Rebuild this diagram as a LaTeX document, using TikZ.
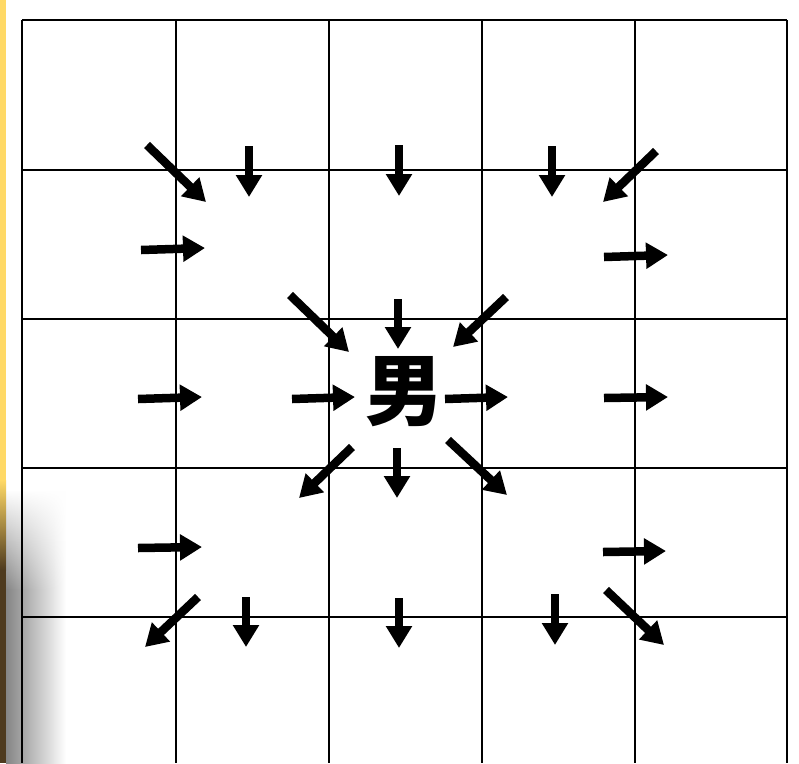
\documentclass[tikz,border=0pt]{standalone}
\usepackage{fontspec}
\newfontfamily\cjk{Noto Sans CJK SC}
\usetikzlibrary{arrows.meta,fadings}
\definecolor{stripyellow}{HTML}{FFD966}
\definecolor{stripbrown}{HTML}{4E3A1E}
\tikzfading[name=downfade, top color=transparent!100, bottom color=transparent!0]
\tikzset{
  gridline/.style={line width=2pt, black},
  bigarrow/.style={line width=8.5pt, black, -{Triangle[width=25pt,length=22pt]}},
}
\begin{document}
\begin{tikzpicture}[x=1pt,y=-1pt]
\useasboundingbox (0,0) rectangle (799,763);
\fill[white] (0,0) rectangle (799,763);
% left strip and shadow (photo edge)
\fill[stripyellow] (0,0) rectangle (6,480);
\shade[top color=stripyellow, bottom color=stripbrown] (0,480) rectangle (6,570);
\fill[stripbrown] (0,570) rectangle (6,763);
\shade[left color=black!48, right color=white, path fading=downfade] (6,490) rectangle (66,590);
\shade[left color=black!48, right color=white] (6,589.5) rectangle (66,763);
% grid
\foreach \x in {22,176,329,482,635,787} \draw[gridline] (\x,20) -- (\x,763);
\foreach \y in {20,170,319,468,617} \draw[gridline] (22,\y) -- (787,\y);
% central character
\node[inner sep=0pt, font=\cjk\bfseries\fontsize{78}{78}\selectfont] (char) at (404,392) {男};
% arrows
\foreach \a/\b/\c/\d in {
  147/145/206/202, 249/146/249/197, 399/145/399/196, 552/146/552/197, 656/151/603/202,
  141/250/205/248, 604/257/668/255,
  290/295/349/352, 398/299/398/349, 506/297/453/347,
  138/399/202/397, 292/399/355/397, 445/399/508/397, 604/398/668/397,
  352/447/299/498, 397/448/397/498, 448/440/507/495,
  138/548/202/547, 603/552/666/551,
  198/597/145/647, 246/597/246/647, 399/598/399/648, 555/594/555/645, 606/590/664/645}
  \draw[bigarrow] (\a,\b) -- (\c,\d);
\end{tikzpicture}
\end{document}
